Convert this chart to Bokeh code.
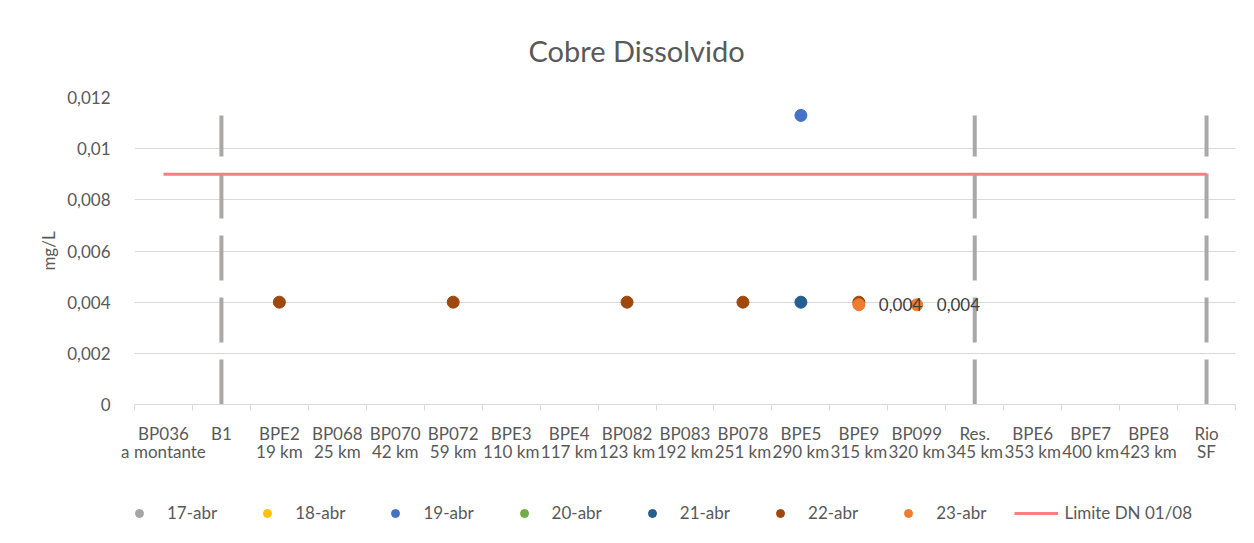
from bokeh.plotting import figure
from bokeh.layouts import column
from bokeh.models import (Range1d, FixedTicker, CustomJSTickFormatter, Legend, LegendItem,
                          ColumnDataSource, LinearAxis)
from bokeh.core.properties import value
from bokeh.embed import file_html
from bokeh.resources import INLINE

# ---------------- data ----------------
sites = ["BP036", "B1", "BPE2", "BP068", "BP070", "BP072", "BPE3", "BPE4", "BP082",
         "BP083", "BP078", "BPE5", "BPE9", "BP099", "Res.", "BPE6", "BPE7", "BPE8", "Rio SF"]
site_line1 = ["BP036", "B1", "BPE2", "BP068", "BP070", "BP072", "BPE3", "BPE4", "BP082",
              "BP083", "BP078", "BPE5", "BPE9", "BP099", "Res.", "BPE6", "BPE7", "BPE8", "Rio"]
site_line2 = ["a montante", "", "19 km", "25 km", "42 km", "59 km", "110 km", "117 km", "123 km",
              "192 km", "251 km", "290 km", "315 km", "320 km", "345 km", "353 km", "400 km", "423 km", "SF"]

abr17_sites, abr17_vals = [], []
abr18_sites, abr18_vals = [], []
abr19_sites, abr19_vals = ["BPE5"], [0.0113]
abr20_sites, abr20_vals = [], []
abr21_sites, abr21_vals = ["BPE5"], [0.004]
abr22_sites = ["BPE2", "BP072", "BP082", "BP078", "BPE9"]
abr22_vals = [0.004, 0.004, 0.004, 0.004, 0.004]
abr23_sites = ["BPE9", "BP099"]
abr23_vals = [0.0039, 0.0039]
abr23_labels = ["0,004", "0,004"]

limit_sites = ["BP036", "Rio SF"]
limit_vals = [0.009, 0.009]

divider_sites = ["B1", "Res.", "Rio SF"]
divider_bottom = [0, 0, 0]
divider_top = [0.0113, 0.0113, 0.0113]

y_ticks = [0, 0.002, 0.004, 0.006, 0.008, 0.010, 0.012]

series = [
    ("17-abr", abr17_sites, abr17_vals, "#A5A5A5"),
    ("18-abr", abr18_sites, abr18_vals, "#FFC000"),
    ("19-abr", abr19_sites, abr19_vals, "#4472C4"),
    ("20-abr", abr20_sites, abr20_vals, "#70AD47"),
    ("21-abr", abr21_sites, abr21_vals, "#255E91"),
    ("22-abr", abr22_sites, abr22_vals, "#9E480E"),
    ("23-abr", abr23_sites, abr23_vals, "#ED7D31"),
]
limit_color = "#FF7C80"

def xpos(names):
    return [sites.index(n) + 0.5 for n in names]

TXT = "#595959"
FONT = "Lato"
GRID = "#D9D9D9"

p = figure(frame_width=1101, frame_height=307, output_backend="svg", toolbar_location=None,
           x_range=Range1d(0, len(sites)), y_range=Range1d(0, 0.012),
           min_border_left=134, min_border_right=3, min_border_top=97, min_border_bottom=80)
p.outline_line_color = None
p.background_fill_color = "white"
p.border_fill_color = "white"

p.title.text = "Cobre Dissolvido"
p.title.text_font = FONT
p.title.text_font_size = "29px"
p.title.text_font_style = "normal"
p.title.text_color = TXT
p.title.align = "left"
p.title.offset = 394
p.title.standoff = 60

centers = [i + 0.5 for i in range(len(sites))]

# x axis: first line of labels + boundary ticks
xa = p.xaxis[0]
xa.ticker = FixedTicker(ticks=centers, minor_ticks=list(range(len(sites) + 1)))
xa.major_label_overrides = {c: site_line1[i] for i, c in enumerate(centers)}
xa.major_tick_out = 0
xa.major_tick_in = 0
xa.minor_tick_out = 6
xa.minor_tick_in = 0
xa.minor_tick_line_color = GRID
xa.axis_line_color = GRID
xa.major_label_text_font = FONT
xa.major_label_text_font_size = "17px"
xa.major_label_text_color = TXT
xa.major_label_standoff = 12
p.xgrid.visible = False

# second line of labels
xa2 = LinearAxis(ticker=FixedTicker(ticks=centers, minor_ticks=[]))
xa2.major_label_overrides = {c: (site_line2[i] if site_line2[i] else " ") for i, c in enumerate(centers)}
xa2.axis_line_color = None
xa2.major_tick_line_color = None
xa2.minor_tick_line_color = None
xa2.major_tick_out = 0
xa2.major_tick_in = 0
xa2.major_label_text_font = FONT
xa2.major_label_text_font_size = "17px"
xa2.major_label_text_color = TXT
xa2.major_label_standoff = -6
p.add_layout(xa2, "below")

# y axis
ya = p.yaxis[0]
ya.ticker = FixedTicker(ticks=y_ticks)
ya.formatter = CustomJSTickFormatter(code="return (Math.round(tick*1000)/1000).toString().replace('.', ',');")
ya.axis_line_color = None
ya.major_tick_line_color = None
ya.minor_tick_line_color = None
ya.major_label_standoff = 18
ya.major_label_text_font = FONT
ya.major_label_text_font_size = "17px"
ya.major_label_text_color = TXT
ya.axis_label = "mg/L"
ya.axis_label_text_font = FONT
ya.axis_label_text_font_size = "17px"
ya.axis_label_text_font_style = "normal"
ya.axis_label_text_color = TXT
ya.axis_label_standoff = 5
p.ygrid.grid_line_color = GRID
p.ygrid.ticker = FixedTicker(ticks=y_ticks)

# gray dashed dividers
p.segment(x0=xpos(divider_sites), y0=divider_bottom, x1=xpos(divider_sites), y1=divider_top,
          line_color="#ABA7A7", line_width=4, line_dash="45 17")

for name, s_sites, s_vals, col in series:
    src = ColumnDataSource(dict(x=xpos(s_sites), y=s_vals))
    p.scatter("x", "y", source=src, size=12, fill_color=col, line_color=col)

p.line(xpos(limit_sites), limit_vals, line_color=limit_color, line_width=3)

p.text(x=xpos(abr23_sites), y=abr23_vals, text=abr23_labels, x_offset=20, y_offset=0,
       text_align="left", text_baseline="middle", text_font=value(FONT),
       text_font_size="17px", text_color="#404040")

# ---------------- legend strip ----------------
pl = figure(width=1238, height=59, output_backend="svg", toolbar_location=None,
            x_range=Range1d(0, 1), y_range=Range1d(0, 1),
            x_axis_location=None, y_axis_location=None,
            min_border_left=0, min_border_right=0, min_border_top=0, min_border_bottom=0)
pl.grid.visible = False
pl.outline_line_color = None
pl.border_fill_color = "white"
pl.background_fill_color = "white"

nan = float("nan")
items = []
for name, s_sites, s_vals, col in series:
    r = pl.scatter(x=[nan], y=[nan], size=12, fill_color=col, line_color=col)
    items.append(LegendItem(label=name, renderers=[r]))
rl = pl.line(x=[nan], y=[nan], line_color=limit_color, line_width=3)
items.append(LegendItem(label="Limite DN 01/08", renderers=[rl]))

legend = Legend(items=items, orientation="horizontal", location=(-17, 20),
                glyph_width=44, glyph_height=20, label_standoff=6, spacing=28,
                padding=10, margin=0, border_line_color=None, background_fill_alpha=0,
                label_text_font=FONT, label_text_font_size="17px", label_text_color=TXT)
pl.add_layout(legend, "center")

layout = column(p, pl, spacing=0)
open("out.html", "w").write(file_html(layout, INLINE))
